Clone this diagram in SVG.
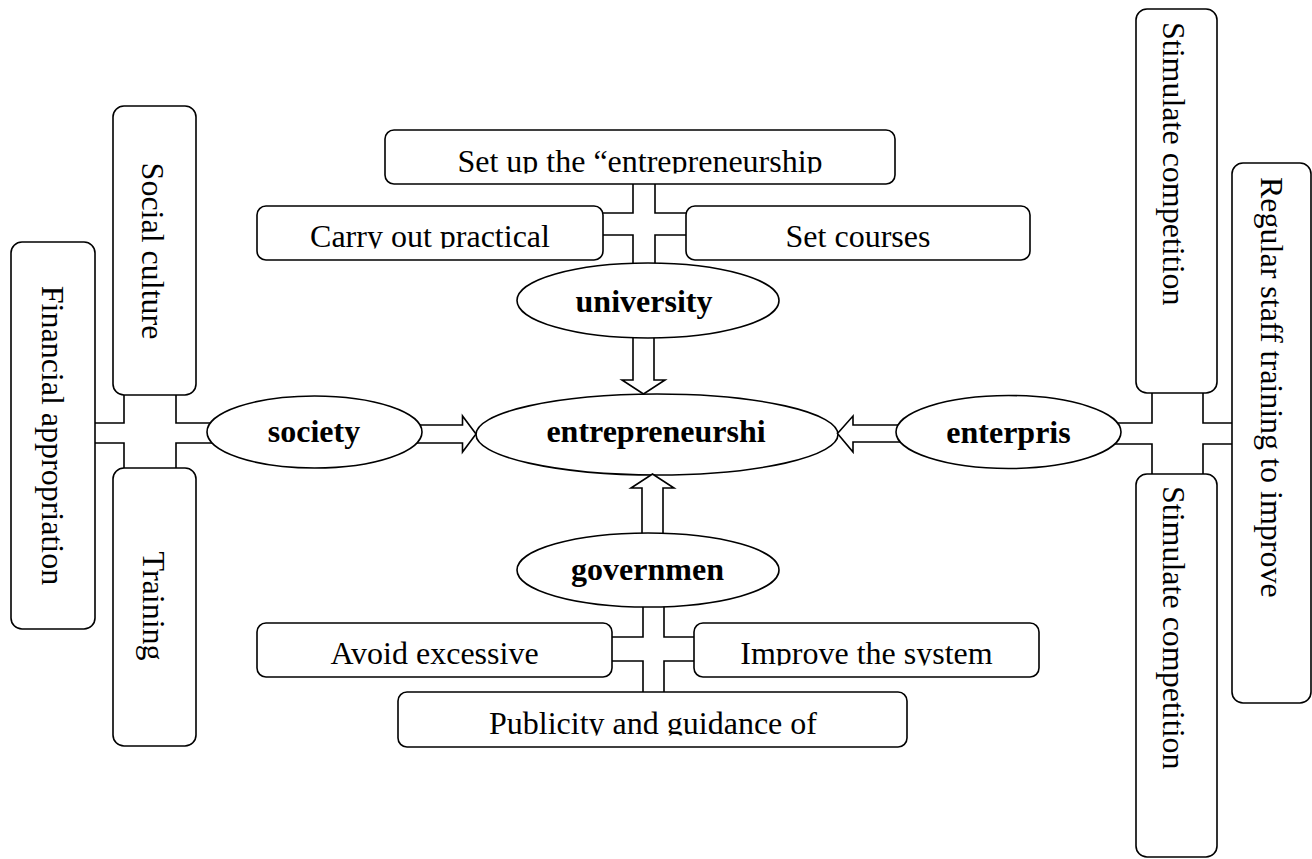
<svg xmlns="http://www.w3.org/2000/svg" width="1312" height="859" viewBox="0 0 1312 859">
<style>
  .box { fill: #ffffff; stroke: #000000; stroke-width: 1.6; }
  .ell { fill: #ffffff; stroke: #000000; stroke-width: 1.6; }
  .conn { fill: #ffffff; stroke: #000000; stroke-width: 1.6; stroke-linejoin: miter; }
  .t { font-family: "Liberation Serif", "Times New Roman", serif; font-size: 32px; fill: #000000; }
  .tb { font-family: "Liberation Serif", "Times New Roman", serif; font-size: 32px; font-weight: bold; fill: #000000; text-anchor: middle; }
  .c { text-anchor: middle; }
  .s { text-anchor: start; }
</style>
<defs>
  <clipPath id="clipSetup"><rect x="385" y="130" width="510" height="43.5"/></clipPath>
  <clipPath id="clipRow2"><rect x="250" y="206" width="790" height="42.5"/></clipPath>
  <clipPath id="clipRow3"><rect x="250" y="623" width="800" height="42.5"/></clipPath>
  <clipPath id="clipPub"><rect x="398" y="692" width="509" height="43.5"/></clipPath>
</defs>
<rect width="1312" height="859" fill="#ffffff"/>

<g id="entrepreneurship">
  <ellipse class="ell" cx="657" cy="434.5" rx="181" ry="40.5"/>
  <text class="tb" x="656" y="442">entrepreneurshi</text>
</g>

<g id="connectors">
  <path class="conn" d="M633,178 L655,178 L655,213 L692,213 L692,235 L655,235 L655,275 L633,275 L633,235 L598,235 L598,213 L633,213 Z"/>
  <path class="conn" d="M124,390 L176,390 L176,423 L225,423 L225,443 L176,443 L176,472 L124,472 L124,443 L90,443 L90,423 L124,423 Z"/>
  <path class="conn" d="M1152,388 L1203,388 L1203,423 L1240,423 L1240,444 L1203,444 L1203,478 L1152,478 L1152,444 L1100,444 L1100,423 L1152,423 Z"/>
  <path class="conn" d="M643,595 L664,595 L664,637 L700,637 L700,661 L664,661 L664,700 L643,700 L643,661 L605,661 L605,637 L643,637 Z"/>
  <path class="conn" d="M633,325 L654,325 L654,380 L665,380 L643.5,394 L622,380 L633,380 Z"/>
  <path class="conn" d="M400,425 L462.5,425 L462.5,416 L476,434 L462.5,452 L462.5,443 L400,443 Z"/>
  <path class="conn" d="M915,425 L853,425 L853,416 L837.5,433.5 L853,452 L853,442 L915,442 Z"/>
  <path class="conn" d="M642,548 L663,548 L663,488 L674,488 L652.5,474 L631,488 L642,488 Z"/>
</g>

<g id="university">
  <ellipse class="ell" cx="648" cy="300.5" rx="131" ry="37.5"/>
  <text class="tb" x="644" y="311.5">university</text>
</g>
<g id="society">
  <ellipse class="ell" cx="314.5" cy="432" rx="107.5" ry="36"/>
  <text class="tb" x="314" y="442">society</text>
</g>
<g id="enterprise">
  <ellipse class="ell" cx="1008.5" cy="432" rx="112.5" ry="36.5"/>
  <text class="tb" x="1008.5" y="443">enterpris</text>
</g>
<g id="government">
  <ellipse class="ell" cx="648" cy="570" rx="131" ry="37"/>
  <text class="tb" x="647.5" y="580">governmen</text>
</g>

<g id="setup">
  <rect class="box" x="385" y="130" width="510" height="54" rx="9"/>
  <text class="t c" x="640" y="172" clip-path="url(#clipSetup)">Set up the “entrepreneurship</text>
</g>
<g id="carryout">
  <rect class="box" x="257" y="206" width="346" height="54" rx="9"/>
  <text class="t c" x="430" y="247" clip-path="url(#clipRow2)">Carry out practical</text>
</g>
<g id="setcourses">
  <rect class="box" x="686" y="206" width="344" height="54" rx="9"/>
  <text class="t c" x="858" y="247" clip-path="url(#clipRow2)">Set courses</text>
</g>
<g id="avoid">
  <rect class="box" x="257" y="623" width="355" height="54" rx="9"/>
  <text class="t c" x="434.5" y="664" clip-path="url(#clipRow3)">Avoid excessive</text>
</g>
<g id="improve">
  <rect class="box" x="694" y="623" width="345" height="54" rx="9"/>
  <text class="t c" x="866.5" y="664" clip-path="url(#clipRow3)">Improve the system</text>
</g>
<g id="publicity">
  <rect class="box" x="398" y="692" width="509" height="55" rx="9"/>
  <text class="t c" x="653" y="734" clip-path="url(#clipPub)">Publicity and guidance of</text>
</g>

<g id="financial">
  <rect class="box" x="11" y="242" width="84" height="387" rx="11"/>
  <text class="t c" transform="translate(42,435.5) rotate(90)">Financial appropriation</text>
</g>
<g id="socialculture">
  <rect class="box" x="113" y="106" width="83" height="289" rx="11"/>
  <text class="t c" transform="translate(142,251) rotate(90)">Social culture</text>
</g>
<g id="training">
  <rect class="box" x="113" y="468" width="83" height="278" rx="11"/>
  <text class="t c" transform="translate(143,606) rotate(90)">Training</text>
</g>
<g id="stimulate1">
  <rect class="box" x="1136" y="9" width="81" height="384" rx="11"/>
  <text class="t s" transform="translate(1163,22) rotate(90)">Stimulate competition</text>
</g>
<g id="stimulate2">
  <rect class="box" x="1136" y="474" width="81" height="383" rx="11"/>
  <text class="t s" transform="translate(1163,486) rotate(90)">Stimulate competition</text>
</g>
<g id="regular">
  <rect class="box" x="1232" y="163" width="79" height="540" rx="11"/>
  <text class="t s" transform="translate(1260.5,177) rotate(90)">Regular staff training to improve</text>
</g>
</svg>
